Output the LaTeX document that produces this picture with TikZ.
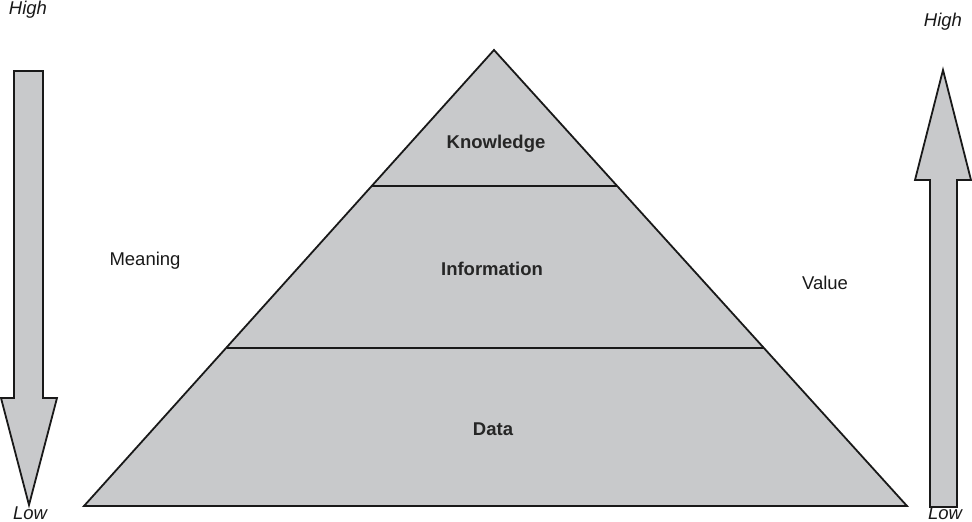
\documentclass[tikz,border=0pt]{standalone}
\usepackage{fontspec}
\setmainfont{Liberation Sans}
\definecolor{pyrfill}{HTML}{C8C9CB}
\begin{document}
\begin{tikzpicture}[x=1pt,y=-1pt,
  shapestyle/.style={draw=black!90,line width=1.8pt,fill=pyrfill,line join=miter},
  divline/.style={draw=black!90,line width=1.8pt},
  lvl/.style={font=\fontsize{18.5}{20}\selectfont\bfseries,text=black!85},
  side/.style={font=\fontsize{18.5}{20}\selectfont,text=black!90},
  hl/.style={font=\fontsize{18.5}{20}\selectfont\itshape,text=black!90,inner sep=0.5pt}]
\useasboundingbox (0,0) rectangle (972,522);
% pyramid
\coordinate (apex) at (494,50);
\coordinate (bl) at (84,506);
\coordinate (br) at (907,506);
\coordinate (k1) at (372,186);
\coordinate (k2) at (617,186);
\coordinate (i1) at (227,348);
\coordinate (i2) at (764,348);
\draw[shapestyle] (apex) -- (br) -- (bl) -- cycle;
\draw[divline] (k1) -- (k2);
\draw[divline] (i1) -- (i2);
\node[lvl] (know) at (496,143.5) {Knowledge};
\node[lvl] (info) at (492,269) {Information};
\node[lvl] (data) at (493,429) {Data};
% left arrow (down)
\draw[shapestyle] (14,71) -- (43,71) -- (43,398) -- (57,398) -- (29,505) -- (1,398) -- (14,398) -- cycle;
% right arrow (up)
\draw[shapestyle] (930,507) -- (930,180) -- (915,180) -- (943,70) -- (971,180) -- (957,180) -- (957,507) -- cycle;
\node[hl] (highl) at (28,10) {High};
\node[hl] (lowl) at (30,513) {Low};
\node[hl] (highr) at (943,22) {High};
\node[hl] (lowr) at (945,513.5) {Low};
\node[side] (meaning) at (145,261) {Meaning};
\node[side] (value) at (825,283) {Value};
\end{tikzpicture}
\end{document}
